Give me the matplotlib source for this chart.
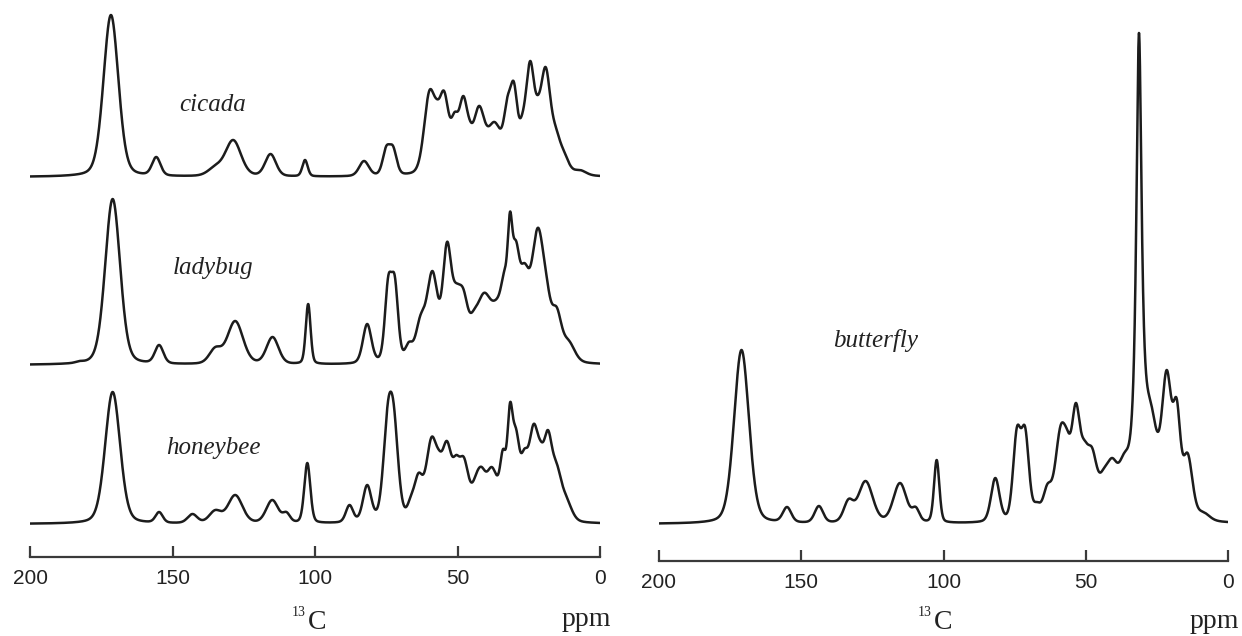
import numpy as np
import matplotlib
matplotlib.use("Agg")
import matplotlib.pyplot as plt

# ── chemical-shift grid ───────────────────────────────────────────────────────
PPM = np.linspace(200, 0, 4001)

# ── trace tables: position (ppm), trace height there, component FWHM (ppm) ────
CICADA_POS  = [171.6, 155.7, 135.0, 128.7, 115.6, 103.5, 82.8, 75.0, 72.6, 59.8,
               57.3, 54.7, 51.0, 48.0, 45.7, 42.5, 37.0, 32.5, 30.2, 27.3,
               24.5, 21.8, 19.1, 15.5, 12.5, 7.0]
CICADA_HT   = [162, 20, 12, 37, 23, 17, 16, 31, 31, 87,
               78, 86, 65, 81, 57, 71, 55, 80, 95, 63,
               116, 82, 110, 50, 25, 7]
CICADA_FWHM = [6.2, 3.5, 6.0, 6.5, 4.5, 2.2, 4.0, 3.0, 3.0, 4.5,
               3.0, 4.0, 3.0, 3.5, 3.0, 4.5, 6.0, 3.0, 3.0, 3.0,
               3.5, 3.0, 4.0, 4.0, 4.0, 5.0]

LADYBUG_POS  = [182.7, 171.0, 154.7, 135.0, 128.0, 114.9, 102.4, 81.7, 74.3, 72.0,
                67.1, 63.0, 58.8, 53.7, 50.5, 47.8, 44.3, 40.8, 35.3, 33.5,
                31.6, 29.6, 26.6, 21.9, 18.7, 15.2, 11.0]
LADYBUG_HT   = [4, 166, 20, 18, 44, 28, 61, 41, 89, 89,
                23, 50, 94, 123, 82, 75, 55, 72, 72, 95,
                153, 125, 102, 137, 88, 58, 25]
LADYBUG_FWHM = [3.0, 6.2, 3.5, 5.0, 6.5, 5.0, 2.0, 3.5, 2.8, 2.8,
                3.0, 4.0, 4.5, 3.5, 4.0, 4.0, 3.5, 6.0, 6.0, 2.5,
                2.0, 3.0, 4.0, 5.0, 4.0, 4.0, 5.0]

HONEYBEE_POS  = [171.0, 154.7, 143.0, 135.0, 128.0, 115.0, 110.0, 102.7, 87.9, 81.7,
                 74.5, 72.3, 66.4, 63.7, 59.1, 56.5, 53.7, 50.5, 47.8, 43.6,
                 41.5, 38.1, 36.3, 34.0, 31.6, 29.5, 26.6, 23.3, 20.8, 18.3,
                 15.2, 11.8]
HONEYBEE_HT   = [132, 12, 10, 14, 29, 24, 12, 61, 19, 39,
                 120, 118, 28, 51, 87, 74, 83, 69, 67, 49,
                 57, 57, 49, 75, 121, 96, 75, 100, 83, 94,
                 61, 28]
HONEYBEE_FWHM = [6.2, 3.0, 4.0, 5.0, 6.0, 5.0, 3.0, 2.5, 3.0, 3.5,
                 3.8, 3.8, 3.0, 3.5, 4.5, 3.0, 4.0, 3.0, 4.0, 4.0,
                 4.0, 4.0, 3.5, 2.5, 2.2, 3.0, 3.0, 4.0, 3.0, 3.5,
                 4.0, 4.5]

BUTTERFLY_POS  = [171.0, 155.0, 143.8, 133.4, 127.4, 115.3, 109.7, 102.4, 81.8, 74.2,
                  71.3, 67.2, 63.5, 58.8, 56.5, 53.5, 50.5, 47.7, 43.8, 40.7,
                  36.5, 31.3, 27.0, 21.5, 19.5, 18.0, 14.2, 8.6]
BUTTERFLY_HT   = [174, 17, 18, 25, 43, 41, 17, 64, 46, 97,
                  97, 22, 40, 99, 94, 121, 84, 76, 55, 66,
                  71, 491, 120, 154, 116, 125, 71, 12]
BUTTERFLY_FWHM = [6.2, 3.5, 3.5, 4.0, 6.0, 5.5, 3.0, 2.2, 3.5, 3.2,
                  3.2, 3.0, 3.5, 4.5, 3.0, 3.5, 3.5, 4.0, 4.0, 4.5,
                  4.5, 2.4, 5.5, 4.0, 2.5, 3.0, 4.0, 5.0]
# Lorentzian fraction per component (the 31 ppm CH2 line is nearly pure Lorentzian)
BUTTERFLY_ETA  = [0.25, 0.25, 0.25, 0.25, 0.25, 0.25, 0.25, 0.25, 0.25, 0.25,
                  0.25, 0.25, 0.25, 0.25, 0.25, 0.25, 0.25, 0.25, 0.25, 0.25,
                  0.25, 1.0, 0.25, 0.25, 0.25, 0.25, 0.25, 0.25]

# vertical offsets of the stacked traces (left panel)
OFFSETS = {"cicada": 380, "ladybug": 192, "honeybee": 33}
BUTTERFLY_OFFSET = 37

TICKS = [200, 150, 100, 50, 0]
LINE = "#1c1c1c"
AXIS = "#3a3a3a"


def pseudo_voigt(x, c, w, eta):
    g = np.exp(-4 * np.log(2) * ((x - c) / w) ** 2)
    l = 1.0 / (1.0 + 4 * ((x - c) / w) ** 2)
    return (1 - eta) * g + eta * l


def build_trace(pos, ht, fwhm, eta=None):
    pos, ht, fwhm = (np.asarray(a, float) for a in (pos, ht, fwhm))
    eta = np.full_like(pos, 0.25) if eta is None else np.asarray(eta, float)
    # scale components so the summed trace passes through each listed height
    M = pseudo_voigt(pos[:, None], pos[None, :], fwhm[None, :], eta[None, :])
    amp = ht.copy()
    for _ in range(1500):
        amp = np.clip(amp + 0.3 * (ht - M @ amp), 0, None)
    return pseudo_voigt(PPM[:, None], pos[None, :], fwhm[None, :], eta[None, :]) @ amp


def style_axis(ax):
    ax.set_xlim(200, 0)
    for s in ("top", "left", "right"):
        ax.spines[s].set_visible(False)
    ax.spines["bottom"].set_color(AXIS)
    ax.spines["bottom"].set_linewidth(1.6)
    ax.set_yticks([])
    ax.set_xticks(TICKS)
    ax.set_xticklabels([str(t) for t in TICKS], family="Liberation Sans",
                       fontsize=15, color="#222222")
    ax.tick_params(axis="x", direction="in", length=8, width=1.6,
                   color=AXIS, pad=9)


W, H = 1242, 636
fig = plt.figure(figsize=(W / 100, H / 100), dpi=100)

# ── left: stacked cicada / ladybug / honeybee ─────────────────────────────────
axL = fig.add_axes([30 / W, (H - 557) / H, 570 / W, 557 / H])
axL.set_ylim(0, 557)
style_axis(axL)

stack = [
    ("cicada",   CICADA_POS,   CICADA_HT,   CICADA_FWHM,   452),
    ("ladybug",  LADYBUG_POS,  LADYBUG_HT,  LADYBUG_FWHM,  289),
    ("honeybee", HONEYBEE_POS, HONEYBEE_HT, HONEYBEE_FWHM, 109),
]
for name, pos, ht, fw, ylab in stack:
    axL.plot(PPM, OFFSETS[name] + build_trace(pos, ht, fw),
             color=LINE, lw=1.8, solid_joinstyle="round")
    axL.text(135.8, ylab, name, family="Liberation Serif", style="italic",
             fontsize=18, ha="center", va="center", color="#222222")

# ── right: butterfly ──────────────────────────────────────────────────────────
axR = fig.add_axes([659 / W, (H - 561) / H, 569 / W, 561 / H])
axR.set_ylim(0, 561)
style_axis(axR)
butterfly = build_trace(BUTTERFLY_POS, BUTTERFLY_HT, BUTTERFLY_FWHM, BUTTERFLY_ETA)
axR.plot(PPM, BUTTERFLY_OFFSET + butterfly, color=LINE, lw=1.8, solid_joinstyle="round")
axR.text(123.7, 221, "butterfly", family="Liberation Serif", style="italic",
         fontsize=18, ha="center", va="center", color="#222222")

# ── axis captions ─────────────────────────────────────────────────────────────
for x13, xppm, ybase, yppm in [(292, 562, 629, 626), (918, 1190, 629, 628)]:
    fig.text(x13 / W, 1 - (ybase - 13) / H, "13", family="Liberation Serif",
             fontsize=10, ha="left", va="baseline", color="#222222")
    fig.text((x13 + 16) / W, 1 - ybase / H, "C", family="Liberation Serif",
             fontsize=20, ha="left", va="baseline", color="#222222")
    fig.text(xppm / W, 1 - yppm / H, "ppm", family="Liberation Serif",
             fontsize=20, ha="left", va="baseline", color="#222222")

fig.savefig("out.png", dpi=100, facecolor="white")
